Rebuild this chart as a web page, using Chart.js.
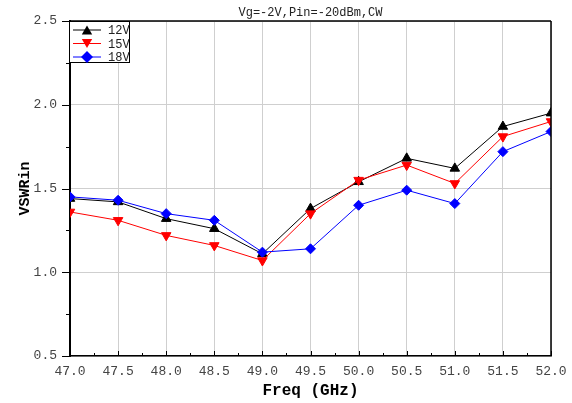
<!DOCTYPE html>
<html>
<head>
<meta charset="utf-8">
<script src="https://cdn.jsdelivr.net/npm/chart.js"></script>
<style>
  html, body { margin: 0; padding: 0; background: #fff; }
  #wrap { width: 572px; height: 403px; }
</style>
</head>
<body>
<div id="wrap"><canvas id="c" width="572" height="403"></canvas></div>
<script>
// Input VSWR versus frequency at three drain voltages
const freqGHz = [47.0, 47.5, 48.0, 48.5, 49.0, 49.5, 50.0, 50.5, 51.0, 51.5, 52.0];
const vswr12V = [1.44, 1.42, 1.32, 1.26, 1.11, 1.38, 1.54, 1.68, 1.62, 1.87, 1.95];
const vswr15V = [1.36, 1.31, 1.22, 1.16, 1.07, 1.35, 1.55, 1.64, 1.53, 1.81, 1.90];
const vswr18V = [1.45, 1.43, 1.35, 1.31, 1.12, 1.14, 1.40, 1.49, 1.41, 1.72, 1.84];
const seriesLabels = ['12V', '15V', '18V'];
const chartTitle = 'Vg=-2V,Pin=-20dBm,CW';
const xTitle = 'Freq (GHz)';
const yTitle = 'VSWRin';

const MONO = '"Liberation Mono", "DejaVu Sans Mono", monospace';

function pts(ys) { return freqGHz.map((f, i) => ({ x: f, y: ys[i] })); }
function isMajor(v) { return Math.abs(v * 2 - Math.round(v * 2)) < 1e-6; }

// filled marker shape used inside the legend box
function marker(ctx, style, rot, r, x, y) {
  ctx.beginPath();
  if (style === 'triangle') {
    const s = rot === 180 ? -1 : 1;
    for (let k = 0; k < 3; k++) {
      const a = (-90 + k * 120) * Math.PI / 180;
      const px = x + r * Math.cos(a);
      const py = y + s * r * Math.sin(a) + (s * r * 0.25);
      k === 0 ? ctx.moveTo(px, py) : ctx.lineTo(px, py);
    }
  } else {
    ctx.moveTo(x, y - r); ctx.lineTo(x + r, y); ctx.lineTo(x, y + r); ctx.lineTo(x - r, y);
  }
  ctx.closePath();
  ctx.fill();
}

// tick marks: x ticks point into the plot, y ticks point outward; minor ticks shorter
const tickMarks = {
  id: 'tickMarks',
  afterDraw(chart) {
    const ctx = chart.ctx, a = chart.chartArea;
    const xs = chart.scales.x, ys = chart.scales.y;
    ctx.save();
    ctx.strokeStyle = '#000';
    ctx.lineWidth = 1;
    ctx.beginPath();
    xs.ticks.forEach(t => {
      const px = Math.round(xs.getPixelForValue(t.value)) + 0.5;
      const len = isMajor(t.value) ? 5 : 3;
      ctx.moveTo(px, a.bottom); ctx.lineTo(px, a.bottom - len);
    });
    ys.ticks.forEach(t => {
      const py = Math.round(ys.getPixelForValue(t.value)) + 0.5;
      const len = isMajor(t.value) ? 8 : 4;
      ctx.moveTo(a.left, py); ctx.lineTo(a.left - len, py);
    });
    ctx.stroke();
    ctx.restore();
  }
};

const boxLegend = {
  id: 'boxLegend',
  afterDraw(chart) {
    const ctx = chart.ctx, a = chart.chartArea;
    // frame: top and right edges of the plot box
    ctx.save();
    ctx.strokeStyle = '#000';
    ctx.lineWidth = 1.5;
    ctx.beginPath();
    ctx.moveTo(a.left, a.top); ctx.lineTo(a.right, a.top);
    ctx.moveTo(a.right, a.top); ctx.lineTo(a.right, a.bottom);
    ctx.stroke();

    // legend box in the upper-left corner
    const bx = a.left - 1, by = a.top, bw = 60, bh = 41;
    ctx.fillStyle = '#fff';
    ctx.fillRect(bx, by, bw, bh);
    ctx.lineWidth = 1;
    ctx.strokeRect(bx + 0.5, by + 0.5, bw, bh);
    ctx.font = '12px ' + MONO;
    ctx.textBaseline = 'middle';
    chart.data.datasets.forEach((ds, i) => {
      const y = by + 9 + i * 13.5;
      ctx.strokeStyle = ds.borderColor;
      ctx.lineWidth = 1;
      ctx.beginPath();
      ctx.moveTo(bx + 4, y); ctx.lineTo(bx + 32, y);
      ctx.stroke();
      ctx.fillStyle = ds.pointBackgroundColor;
      marker(ctx, ds.pointStyle, ds.pointRotation || 0, 6, bx + 18, y);
      ctx.fillStyle = '#222';
      ctx.fillText(ds.label, bx + 39, y + 1);
    });
    ctx.restore();
  }
};

const gridColor = (c) => (c.tick && isMajor(c.tick.value)) ? '#cfcfcf' : 'rgba(0,0,0,0)';

new Chart(document.getElementById('c'), {
  type: 'line',
  data: {
    datasets: [
      { label: seriesLabels[0], data: pts(vswr12V), borderColor: '#000', backgroundColor: '#000',
        pointBackgroundColor: '#000', pointBorderColor: '#000', pointStyle: 'triangle',
        pointRadius: 5.5, borderWidth: 1, order: 2 },
      { label: seriesLabels[1], data: pts(vswr15V), borderColor: '#ff0000', backgroundColor: '#ff0000',
        pointBackgroundColor: '#ff0000', pointBorderColor: '#ff0000', pointStyle: 'triangle',
        pointRotation: 180, pointRadius: 5.5, borderWidth: 1, order: 1 },
      { label: seriesLabels[2], data: pts(vswr18V), borderColor: '#0000ff', backgroundColor: '#0000ff',
        pointBackgroundColor: '#0000ff', pointBorderColor: '#0000ff', pointStyle: 'rectRot',
        pointRadius: 5, borderWidth: 1, order: 0 }
    ]
  },
  options: {
    responsive: false,
    animation: false,
    devicePixelRatio: 1,
    layout: { padding: { left: 0, right: 21, top: 0, bottom: 0 } },
    plugins: {
      legend: { display: false },
      tooltip: { enabled: false },
      title: {
        display: true, text: chartTitle, fullSize: false, color: '#222',
        font: { family: MONO, size: 12, weight: 'normal' },
        padding: { top: 6, bottom: 0.6 }
      }
    },
    scales: {
      x: {
        type: 'linear', min: 47, max: 52,
        afterFit(s) { s.height = 47; s.paddingLeft = 0; s.paddingRight = 0; },
        ticks: {
          stepSize: 0.25, autoSkip: false, maxRotation: 0, padding: 8,
          color: '#444', font: { family: MONO, size: 13 },
          callback: (v) => isMajor(v) ? Number(v).toFixed(1) : ''
        },
        grid: { color: gridColor, drawTicks: false, lineWidth: 1 },
        border: { color: '#000', width: 1.5 },
        title: {
          display: true, text: xTitle, color: '#000',
          font: { family: MONO, size: 16, weight: 'bold' },
          padding: { top: 0, bottom: 2 }
        }
      },
      y: {
        min: 0.5, max: 2.5,
        afterFit(s) { s.width = 70; },
        ticks: {
          stepSize: 0.25, autoSkip: false, padding: 13,
          color: '#444', font: { family: MONO, size: 13 },
          callback: (v) => isMajor(v) ? Number(v).toFixed(1) : ''
        },
        grid: { color: gridColor, drawTicks: false, lineWidth: 1 },
        border: { color: '#000', width: 2 },
        title: {
          display: true, text: yTitle, color: '#000',
          font: { family: MONO, size: 15, weight: 'bold' },
          padding: { top: 16, bottom: 0 }
        }
      }
    }
  },
  plugins: [tickMarks, boxLegend]
});
</script>
</body>
</html>
